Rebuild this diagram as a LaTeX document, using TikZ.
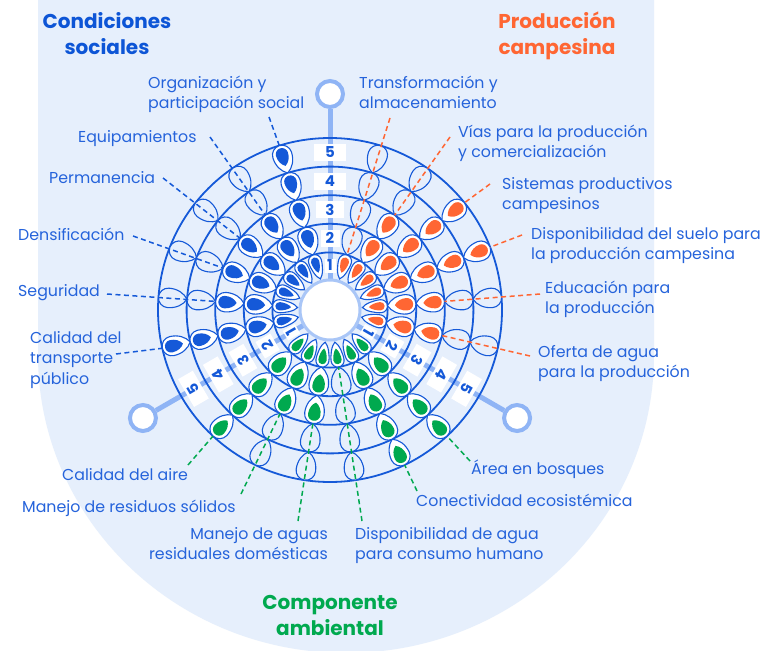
\documentclass[tikz,border=0pt]{standalone}
\usepackage{fontspec}
\setmainfont{Poppins}
\usetikzlibrary{calc}
\definecolor{bgblue}{HTML}{E6EFFC}
\definecolor{dblue}{HTML}{1559D8}
\definecolor{lblue}{HTML}{8FB4F5}
\definecolor{lcirc}{HTML}{A9C6F7}
\definecolor{txtblue}{HTML}{2563DB}
\definecolor{ttlblue}{HTML}{0D55D6}
\definecolor{orng}{HTML}{FF6633}
\definecolor{grn}{HTML}{00A94F}
\newcommand\dropPath[2]{(0,0) .. controls ({0.12*(#1)},{0.3*(#2)}) and ({(#1)-0.95*(#2)},{(#2)/2}) .. ({(#1)-(#2)/2},{(#2)/2}) arc[start angle=90,end angle=-90,radius={(#2)/2}] .. controls ({(#1)-0.95*(#2)},{-(#2)/2}) and ({0.12*(#1)},{-0.3*(#2)}) .. cycle}
\newcommand\lstrut{\rule{0pt}{16pt}}
\newcommand\tstrut{\rule{0pt}{17pt}}
\begin{document}
\begin{tikzpicture}[x=1pt,y=1pt,
  lab/.style={inner sep=0pt, anchor=north west, align=left, text=txtblue, font=\fontsize{15.8}{20.7}\selectfont},
  ttl/.style={inner sep=0pt, anchor=north, align=center, font=\fontsize{20}{26}\selectfont\bfseries},
  lead/.style={line width=1.5pt, dash pattern=on 5pt off 3.5pt},
  numbox/.style={fill=white, inner sep=0pt, text=dblue, font=\fontsize{15}{15}\selectfont\bfseries},
  petalline/.style={draw=dblue, line width=1.1pt}]
\useasboundingbox (0,0) rectangle (762,-650);
\begin{scope}
\clip (0,0) rectangle (762,-650);
\fill[white] (0,0) rectangle (762,-650);
\fill[bgblue] (38,1) -- (38,-355) arc[start angle=180,end angle=360,x radius=308,y radius=298] -- (654,1) -- cycle;
\end{scope}
\coordinate (C) at (330,-310);
% axes
\foreach \a in {0,120,240}{
  \node[circle, draw=lblue, line width=4pt, fill=white, minimum size=26pt, inner sep=0pt] (end\a) at ($(C)+({90-\a}:216)$) {};
  \draw[lblue, line width=5pt] (C) -- (end\a);
}
% rings
\foreach \r in {57.6,86.2,114.8,143.4,172}{\draw[dblue, line width=1.8pt] (C) circle[radius=\r];}
\node[circle, fill=white, draw=lcirc, line width=3pt, minimum size=60pt, inner sep=0pt] (ctr) at (C) {};
% petals
\foreach \k/\v/\col in {1/1/orng,2/3/orng,3/5/orng,4/5/orng,5/3/orng,6/3/orng,
  8/5/grn,9/5/grn,10/1/grn,11/3/grn,12/3/grn,13/5/grn,
  15/5/dblue,16/3/dblue,17/3/dblue,18/3/dblue,19/3/dblue,20/5/dblue}{
  \pgfmathsetmacro\ang{90-\k*360/21}
  \foreach \l in {1,...,5}{
    \pgfmathsetmacro\rin{\l==1 ? 32.5 : 29+28.6*(\l-1)}
    \pgfmathsetmacro\L{29+28.6*\l-\rin}
    \pgfmathsetmacro\W{\l==1 ? 13 : 19.5}
    \begin{scope}[shift={(C)}, rotate=\ang, shift={(\rin,0)}]
      \ifnum\l>\v\relax
        \path[petalline, fill=bgblue] \dropPath{\L}{\W};
      \else
        \path[petalline, fill=white] \dropPath{\L}{\W};
        \pgfmathsetmacro\Li{0.74*\L-2.8}
        \pgfmathsetmacro\Wi{0.64*\W}
        \pgfmathsetmacro\sx{0.26*\L}
        \begin{scope}[shift={(\sx,0)}]
          \fill[\col] \dropPath{\Li}{\Wi};
        \end{scope}
      \fi
    \end{scope}
  }
  \pgfmathsetmacro\rt{29+28.6*\v}
  \coordinate (t\k) at ($(C)+(\ang:\rt)$);
}
% number boxes
\foreach \a in {0,120,240}{
  \foreach \n/\r/\w/\h in {1/44.5/11/14,2/72/19/17,3/100.5/28/17,4/129/32/17,5/157.7/32/17}{
    \node[numbox, minimum width=\w pt, minimum height=\h pt, rotate=-\a] (num\a-\n) at ($(C)+({90-\a}:\r)$) {\n};
  }
}
% leader start points
\foreach \k/\x/\y in {1/390/118,2/450/137,3/490/184,4/522/235,5/540/294,6/530/356,
  8/470/461,9/417/491,10/362/521,11/298/521,12/241/494,13/188/465,
  15/116/354,16/107/294,17/133/236,18/163/178,19/210/137,20/269/117}{
  \coordinate (s\k) at (\x,-\y);
}
% leaders
\foreach \k/\col in {1/orng,2/orng,3/orng,4/orng,5/orng,6/orng,8/grn,9/grn,10/grn,11/grn,12/grn,13/grn,15/dblue,16/dblue,17/dblue,18/dblue,19/dblue,20/dblue}{
  \draw[lead, \col] (s\k) -- (t\k);
}
% titles
\node[ttl, text=ttlblue] (tSoc) at (107,-11) {\tstrut Condiciones\\sociales};
\node[ttl, text=orng] (tPro) at (557,-11) {\tstrut Producción\\campesina};
\node[ttl, text=grn] (tAmb) at (330,-592) {\tstrut Componente\\ambiental};
% labels, social
\node[lab] (lOrg) at (148,-72) {\lstrut Organización y\\participación social};
\node[lab] (lEqu) at (78,-126) {\lstrut Equipamientos};
\node[lab] (lPer) at (49,-167) {\lstrut Permanencia};
\node[lab] (lDen) at (18,-224) {\lstrut Densificación};
\node[lab] (lSeg) at (18,-280) {\lstrut Seguridad};
\node[lab] (lCal) at (30,-327) {\lstrut Calidad del\\transporte\\público};
% labels, production
\node[lab] (lTra) at (359,-72) {\lstrut Transformación y\\almacenamiento};
\node[lab] (lVia) at (458,-121) {\lstrut Vías para la producción\\y comercialización};
\node[lab] (lSis) at (502,-173) {\lstrut Sistemas productivos\\campesinos};
\node[lab] (lDis) at (531,-223) {\lstrut Disponibilidad del suelo para\\la producción campesina};
\node[lab] (lEdu) at (545,-277) {\lstrut Educación para\\la producción};
\node[lab] (lOfe) at (538,-341) {\lstrut Oferta de agua\\para la producción};
% labels, environment
\node[lab] (lAir) at (62,-464) {\lstrut Calidad del aire};
\node[lab] (lRes) at (22,-496) {\lstrut Manejo de residuos sólidos};
\node[lab, anchor=north east, align=right] (lAgu) at (328,-523) {\lstrut Manejo de aguas\\residuales domésticas};
\node[lab] (lDag) at (355,-523) {\lstrut Disponibilidad de agua\\para consumo humano};
\node[lab] (lCon) at (416,-490) {\lstrut Conectividad ecosistémica};
\node[lab] (lAre) at (471,-458) {\lstrut Área en bosques};
\end{tikzpicture}
\end{document}
